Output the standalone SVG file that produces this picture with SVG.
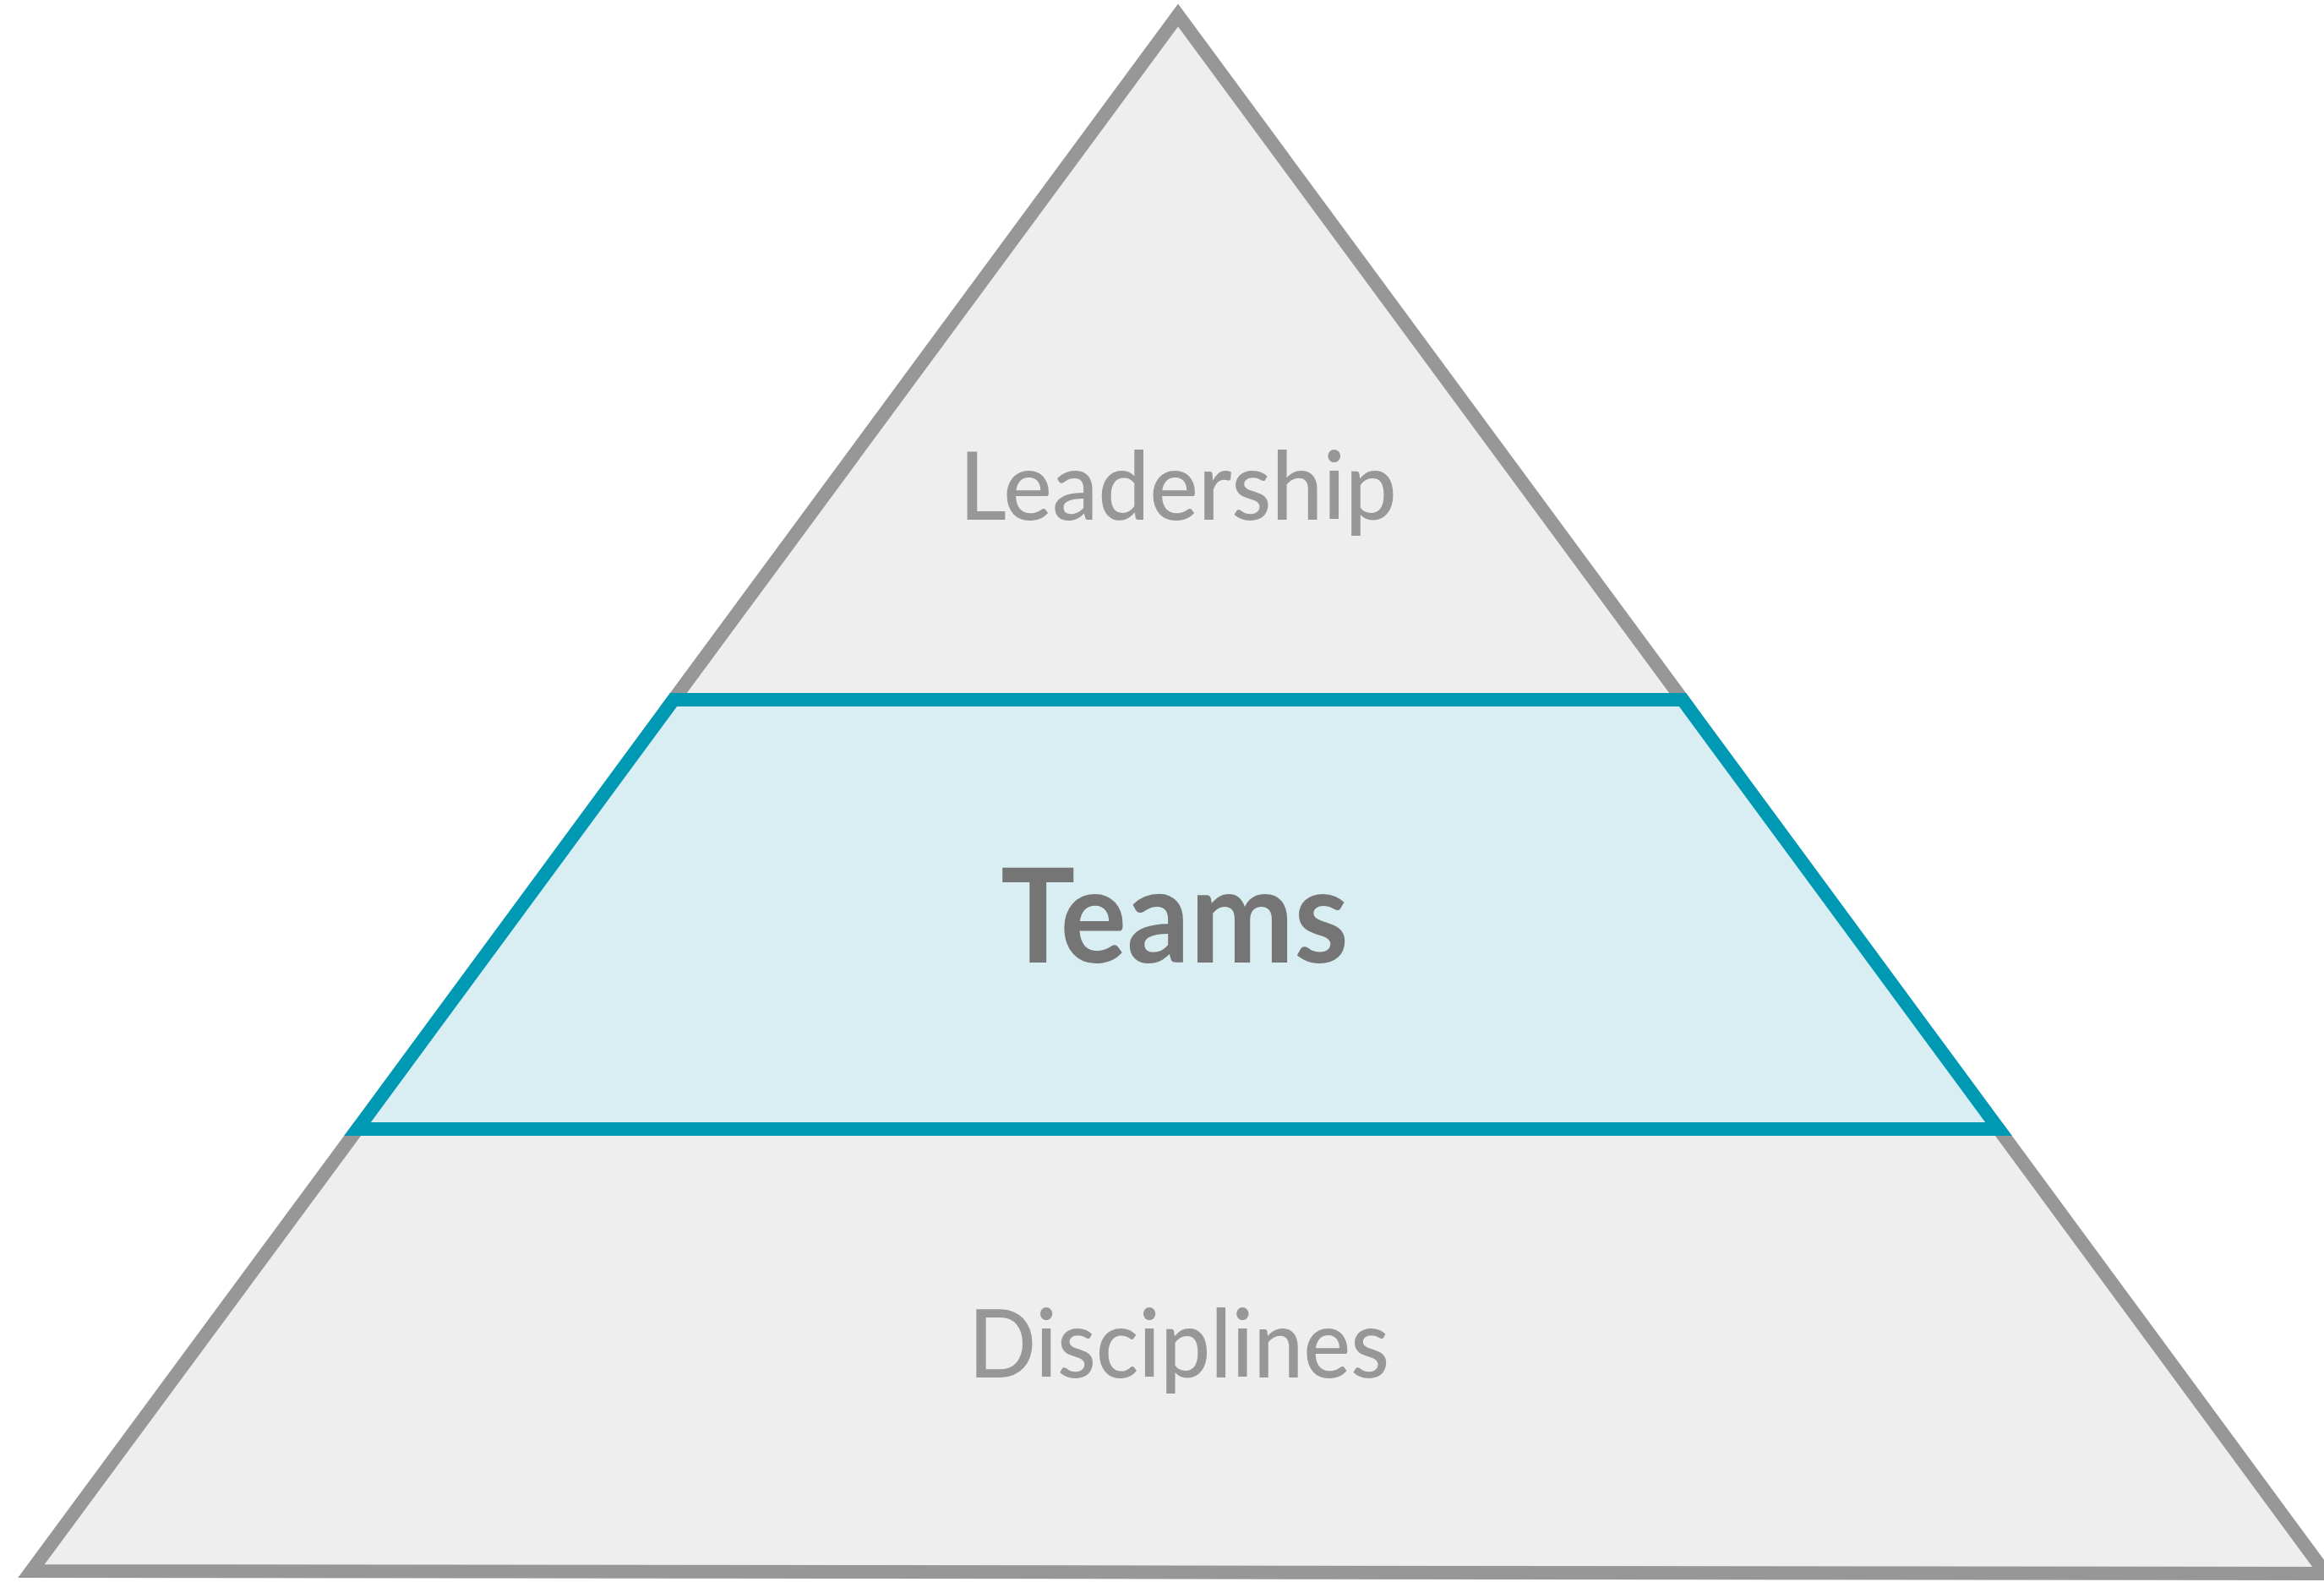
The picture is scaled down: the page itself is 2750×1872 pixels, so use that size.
<svg xmlns="http://www.w3.org/2000/svg" width="2750" height="1872" viewBox="0 0 2750 1872">
<style>
.layer-gray{fill:#eeeeee;stroke:#969796;stroke-width:16;stroke-linejoin:miter;stroke-miterlimit:10}
.layer-teal{fill:#d9eef3;stroke:#0099b3;stroke-width:16;stroke-linejoin:miter;stroke-miterlimit:10}
.lbl{font-family:Lato,"Liberation Sans","DejaVu Sans",sans-serif;text-anchor:middle}
.lbl-gray{fill:#969796;font-size:112px;font-weight:500}
.lbl-dark{fill:#747574;font-size:155px;font-weight:700}
</style>
<rect width="2750" height="1872" fill="#ffffff"/>
<g id="leadership">
<polygon class="layer-gray" points="1394,18 1991,828 797,828"/>
<text class="lbl lbl-gray" x="1394" y="615" textLength="518" lengthAdjust="spacingAndGlyphs">Leadership</text>
</g>
<g id="disciplines">
<polygon class="layer-gray" points="423,1336 2365,1336 2752,1862 37,1859"/>
<text class="lbl lbl-gray" x="1395" y="1630" textLength="498" lengthAdjust="spacingAndGlyphs">Disciplines</text>
</g>
<g id="teams">
<polygon class="layer-teal" points="797,828 1991,828 2365,1336 423,1336"/>
<text class="lbl lbl-dark" x="1390" y="1139" textLength="412" lengthAdjust="spacingAndGlyphs">Teams</text>
</g>
<g id="connectors"></g>
</svg>
